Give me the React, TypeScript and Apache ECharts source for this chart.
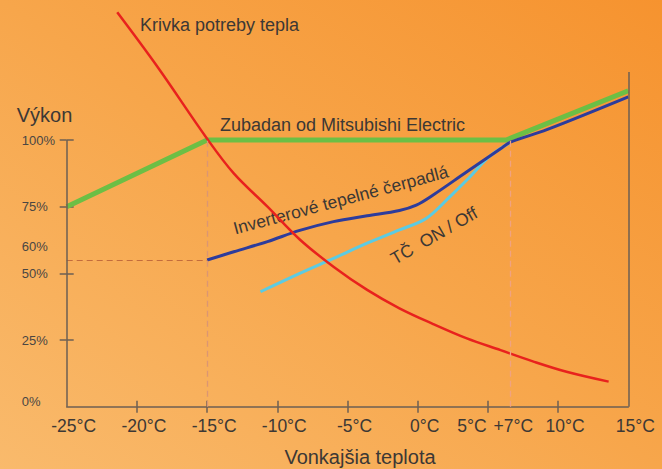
import React, { useEffect, useRef } from "react";
import * as echarts from "echarts";

// Axis values
const xTickLabels = [-25, -20, -15, -10, -5, 0, 5, 10, 15];
const xTicks = [-20, -15, -10, -5, 0, 5, 10];
const plus7 = 6.6; // the "+7°C" marker as drawn
const yTickLabels = [0, 25, 50, 60, 75, 100];
const yTicks = [25, 50, 75, 100];
const guideLevel = 55;
const guideTemp = -15;
const rightEdgeTop = 125.5;

// Series (temperature °C, output %)
const zubadan = [
  [-25, 75],
  [-15, 100],
  [6.3, 100],
  [15, 118.5],
];
const inverter = [
  [-15, 55],
  [-13.1, 58.1],
  [-10.7, 61.9],
  [-8.4, 66.1],
  [-6.0, 69.4],
  [-3.6, 71.6],
  [-1.3, 73.6],
  [-0.1, 75.6],
  [1.1, 79.4],
  [3.5, 88.1],
  [5.9, 96.7],
  [6.6, 99.2],
  [9.2, 103.9],
  [15, 116.2],
];
const onOff = [
  [-11.2, 43.1],
  [-8.4, 50.0],
  [-6.0, 55.6],
  [-3.6, 61.3],
  [-1.3, 66.3],
  [0.6, 70.6],
  [2.3, 78.8],
  [3.5, 85.0],
  [5.1, 93.8],
  [6.6, 99.2],
];
const demand = [
  [-21.4, 147.9],
  [-18.5, 127.2],
  [-15.0, 100.5],
  [-13.1, 87.5],
  [-10.7, 75.0],
  [-8.4, 62.7],
  [-6.0, 52.5],
  [-3.6, 43.8],
  [-1.3, 36.9],
  [1.1, 31.0],
  [3.5, 25.6],
  [5.9, 21.2],
  [8.2, 17.0],
  [10.6, 13.1],
  [13.6, 9.4],
];

const FONT = "Liberation Sans, Arial, sans-serif";
const AXIS = "#6d5f53";
const TXT = "#3c3835";

export default function App() {
  const ref = useRef<HTMLDivElement>(null);

  useEffect(() => {
    if (!ref.current) return;
    const chart = echarts.init(ref.current, null, { renderer: "svg" });
    const axisLineStyle = { color: AXIS, width: 1.5 };
    const labelRich = {
      a: { fontSize: 17.5, fontFamily: FONT, color: TXT, padding: [0, 0, 0, 14] },
      b: { fontSize: 17.5, fontFamily: FONT, color: TXT, padding: [0, 32, 0, 0] },
      c: { fontSize: 17.5, fontFamily: FONT, color: TXT, padding: [0, 0, 0, 6] },
    };
    const option: any = {
      animation: false,
      backgroundColor: new echarts.graphic.LinearGradient(0, 1, 1, 0, [
        { offset: 0, color: "#f9ba6c" },
        { offset: 0.5, color: "#f7a64b" },
        { offset: 1, color: "#f6932f" },
      ]),
      grid: { left: 66.7, right: 33.7, top: 6.7, bottom: 62.3 },
      xAxis: [
        {
          type: "value",
          min: -25,
          max: 15,
          interval: 5,
          splitLine: { show: false },
          axisLine: { show: true, onZero: false, lineStyle: axisLineStyle },
          axisTick: { show: true, customValues: xTicks, length: 6, lineStyle: axisLineStyle },
          axisLabel: {
            customValues: [...xTickLabels, plus7],
            margin: 10,
            fontSize: 17.5,
            fontFamily: FONT,
            color: TXT,
            formatter: (v: number) =>
              v === plus7 ? "{c|+7°C}" : v === 5 ? "{b|5°C}" : `{a|${v}°C}`,
            rich: labelRich,
          },
        },
        {
          type: "value",
          min: -25,
          max: 15,
          interval: 5,
          position: "bottom",
          splitLine: { show: false },
          axisLine: { show: false, onZero: false },
          axisLabel: { show: false },
          axisTick: { show: true, inside: true, customValues: xTicks, length: 6, lineStyle: axisLineStyle },
        },
      ],
      yAxis: [
        {
          type: "value",
          min: 0,
          max: 150,
          position: "left",
          splitLine: { show: false },
          axisLine: { show: false, onZero: false },
          axisTick: { show: true, customValues: yTicks, length: 7, lineStyle: axisLineStyle },
          axisLabel: {
            customValues: yTickLabels,
            align: "left",
            margin: 45,
            fontSize: 13,
            fontFamily: FONT,
            color: "#4a4643",
            formatter: (v: number) => (v === 0 ? "{z|0%}" : `{n|${v}%}`),
            rich: {
              z: { fontSize: 13, fontFamily: FONT, color: "#4a4643", padding: [0, 0, 10, 0] },
              n: { fontSize: 13, fontFamily: FONT, color: "#4a4643" },
            },
          },
        },
        {
          type: "value",
          min: 0,
          max: 150,
          position: "left",
          splitLine: { show: false },
          axisLine: { show: false, onZero: false },
          axisLabel: { show: false },
          axisTick: { show: true, inside: true, customValues: yTicks, length: 7, lineStyle: axisLineStyle },
        },
      ],
      series: [
        {
          type: "line",
          data: [],
          silent: true,
          markLine: {
            silent: true,
            symbol: ["none", "none"],
            label: { show: false },
            data: [
              [
                { coord: [-25, guideLevel], lineStyle: { color: "#c36c3c", width: 1.2, type: [6, 4] } },
                { coord: [guideTemp, guideLevel] },
              ],
              [
                { coord: [guideTemp, 0], lineStyle: { color: "#dc9672", width: 1.3, type: [6, 4] } },
                { coord: [guideTemp, 100] },
              ],
              [
                { coord: [plus7, 0], lineStyle: { color: "#f0a282", width: 1.3, type: [6, 4] } },
                { coord: [plus7, 100] },
              ],
              [
                { coord: [-25, 0], lineStyle: { color: AXIS, width: 1.5, type: "solid" } },
                { coord: [-25, 100] },
              ],
              [
                { coord: [15, 0], lineStyle: { color: AXIS, width: 1.5, type: "solid" } },
                { coord: [15, rightEdgeTop] },
              ],
            ],
          },
        },
        {
          name: "Zubadan od Mitsubishi Electric",
          type: "line",
          data: zubadan,
          symbol: "none",
          lineStyle: { width: 5, color: "#6cbf45" },
        },
        {
          name: "TČ ON / Off",
          type: "line",
          data: onOff,
          symbol: "none",
          smooth: 0.35,
          lineStyle: { width: 3, color: "#5ccbe2" },
        },
        {
          name: "Inverterové tepelné čerpadlá",
          type: "line",
          data: inverter,
          symbol: "none",
          smooth: 0.35,
          lineStyle: { width: 3, color: "#2d3c9c" },
        },
        {
          name: "Krivka potreby tepla",
          type: "line",
          data: demand,
          symbol: "none",
          smooth: 0.35,
          lineStyle: { width: 2.5, color: "#e8221d" },
        },
      ],
      graphic: [
        {
          type: "text",
          x: 16.7,
          y: 115,
          style: { text: "Výkon", fontSize: 20, fontFamily: FONT, fill: TXT, align: "left", verticalAlign: "middle" },
        },
        {
          type: "text",
          x: 360,
          y: 456.7,
          style: { text: "Vonkajšia teplota", fontSize: 20, fontFamily: FONT, fill: TXT, align: "center", verticalAlign: "middle" },
        },
        {
          type: "text",
          x: 140,
          y: 25,
          style: { text: "Krivka potreby tepla", fontSize: 18, fontFamily: FONT, fill: TXT, align: "left", verticalAlign: "middle" },
        },
        {
          type: "text",
          x: 220,
          y: 125,
          style: { text: "Zubadan od Mitsubishi Electric", fontSize: 18, fontFamily: FONT, fill: TXT, align: "left", verticalAlign: "middle" },
        },
        {
          type: "text",
          x: 340.7,
          y: 200,
          rotation: (15 * Math.PI) / 180,
          style: { text: "Inverterové tepelné čerpadlá", fontSize: 17.5, fontFamily: FONT, fill: TXT, align: "center", verticalAlign: "middle" },
        },
        {
          type: "text",
          x: 434,
          y: 235.7,
          rotation: (30 * Math.PI) / 180,
          style: { text: "TČ  ON / Off", fontSize: 17.5, fontFamily: FONT, fill: TXT, align: "center", verticalAlign: "middle" },
        },
      ],
    };
    chart.setOption(option);
    return () => chart.dispose();
  }, []);

  return (
    <div
      ref={ref}
      style={{ position: "fixed", left: 0, top: 0, width: 662, height: 469 }}
    />
  );
}
